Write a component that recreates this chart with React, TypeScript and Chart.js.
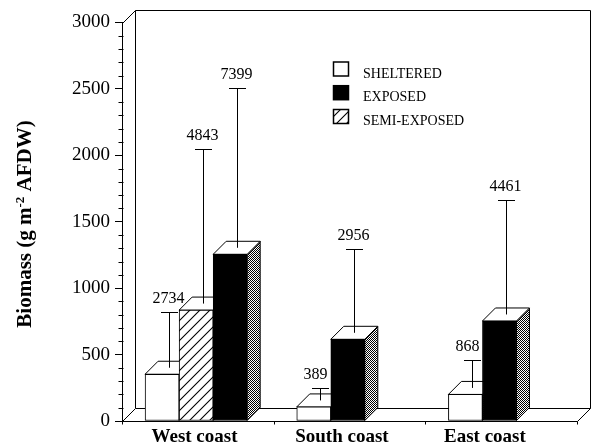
import React, { useEffect, useRef } from "react";
import { Chart, registerables } from "chart.js";

Chart.register(...registerables);

// ---------------- data ----------------
const categories = ["West coast", "South coast", "East coast"];
const seriesNames = ["SHELTERED", "EXPOSED", "SEMI-EXPOSED"];
const shelteredMean: (number | null)[] = [352, 106, 200];
const exposedMean: (number | null)[] = [1255, 615, 753];
const semiExposedMean: (number | null)[] = [835, null, null];
const shelteredSD: (number | null)[] = [420, 94, 210];
const exposedSD: (number | null)[] = [1203, 631, 862];
const semiExposedSD: (number | null)[] = [1164, null, null];
const shelteredMax: (number | null)[] = [2734, 389, 868];
const exposedMax: (number | null)[] = [7399, 2956, 4461];
const semiExposedMax: (number | null)[] = [4843, null, null];
const yTickValues = [0, 500, 1000, 1500, 2000, 2500, 3000];
const yMinorStep = 100;
const yAxisTitle = ["Biomass (g m", "-2", " AFDW)"];

// ---------------- layout ----------------
const W = 592;
const H = 445;
const D = 13; // 3D depth in px
const SLOT_ORDER = [0, 2, 1]; // sheltered, semi-exposed, exposed (left to right)
const GROUP_START = 0.152;
const SLOT_WIDTH = 0.2245;
const LABEL_POS = [0.478, 1.45, 2.393];
const FONT = "'Liberation Serif', 'Times New Roman', serif";

const means = [shelteredMean, exposedMean, semiExposedMean];
const sds = [shelteredSD, exposedSD, semiExposedSD];
const maxs = [shelteredMax, exposedMax, semiExposedMax];

function slotX(s: number, i: number) {
  const present = SLOT_ORDER.filter((k) => means[k][i] != null);
  const slot = present.indexOf(s);
  return i + GROUP_START + (slot + 0.5) * SLOT_WIDTH;
}

const cr = (v: number) => Math.round(v) + 0.5;

function makeHatch(): CanvasPattern | string {
  const c = document.createElement("canvas");
  c.width = 10;
  c.height = 10;
  const g = c.getContext("2d");
  if (!g) return "#fff";
  g.fillStyle = "#fff";
  g.fillRect(0, 0, 10, 10);
  g.strokeStyle = "#000";
  g.lineWidth = 1.1;
  g.beginPath();
  g.moveTo(-1, 11);
  g.lineTo(11, -1);
  g.moveTo(-6, 6);
  g.lineTo(6, -6);
  g.moveTo(4, 16);
  g.lineTo(16, 4);
  g.stroke();
  return g.createPattern(c, "repeat") || "#fff";
}

function makeStipple(): CanvasPattern | string {
  const c = document.createElement("canvas");
  c.width = 2;
  c.height = 2;
  const g = c.getContext("2d");
  if (!g) return "#666";
  g.fillStyle = "#fff";
  g.fillRect(0, 0, 2, 2);
  g.fillStyle = "#000";
  g.fillRect(0, 0, 1, 1);
  g.fillRect(1, 1, 1, 1);
  return g.createPattern(c, "repeat") || "#666";
}

export default function App() {
  const ref = useRef<HTMLCanvasElement | null>(null);

  useEffect(() => {
    const canvas = ref.current;
    if (!canvas) return;
    const hatch = makeHatch();
    const stipple = makeStipple();
    const fills: any[] = ["#ffffff", "#000000", hatch];

    const datasets = seriesNames.map((name, s) => ({
      label: name,
      data: categories
        .map((_, i) =>
          means[s][i] == null ? null : { x: slotX(s, i), y: means[s][i] as number, cat: i }
        )
        .filter((p) => p !== null) as any[],
      backgroundColor: fills[s],
      borderColor: "#000",
      borderWidth: 1,
      borderSkipped: false as any,
      barThickness: 34,
      grouped: false,
    }));

    const plugin = {
      id: "bio3d",
      beforeDatasetsDraw(chart: any) {
        const { ctx, chartArea: a, scales } = chart;
        const x = scales.x;
        const y = scales.y;
        ctx.save();
        ctx.strokeStyle = "#000";
        ctx.lineWidth = 1;
        const top = y.getPixelForValue(3000);
        const L = cr(a.left);
        const R = cr(a.right);
        const B = cr(a.bottom);
        const T = cr(top);
        // back wall
        ctx.beginPath();
        ctx.moveTo(L, T);
        ctx.lineTo(L + D, T - D);
        ctx.lineTo(R + D, T - D);
        ctx.lineTo(R + D, B - D);
        ctx.moveTo(L + D, T - D);
        ctx.lineTo(L + D, B - D);
        ctx.stroke();
        // floor
        ctx.beginPath();
        ctx.moveTo(L, B);
        ctx.lineTo(R, B);
        ctx.lineTo(R + D, B - D);
        ctx.lineTo(L + D, B - D);
        ctx.closePath();
        ctx.fillStyle = "#fff";
        ctx.fill();
        ctx.stroke();
        // floor ticks
        ctx.beginPath();
        for (let v = 0; v <= categories.length; v++) {
          const px = cr(x.getPixelForValue(v));
          ctx.moveTo(px, B);
          ctx.lineTo(px, B + 3);
        }
        // minor y ticks
        for (let v = 0; v <= 3000; v += yMinorStep) {
          if (v % 500 === 0) continue;
          const py = cr(y.getPixelForValue(v));
          ctx.moveTo(L - 4, py);
          ctx.lineTo(L + 1, py);
        }
        ctx.stroke();

        // 3D faces
        const bars: any[] = [];
        chart.data.datasets.forEach((ds: any, d: number) => {
          const meta = chart.getDatasetMeta(d);
          meta.data.forEach((el: any) => {
            const p = el.getProps(["x", "y", "base", "width"], true);
            bars.push(p);
          });
        });
        bars.sort((p, q) => p.x - q.x);
        for (const p of bars) {
          const l = p.x - p.width / 2;
          const r = p.x + p.width / 2;
          const t = p.y;
          const b = p.base;
          // side
          ctx.beginPath();
          ctx.moveTo(r, b);
          ctx.lineTo(r + D, b - D);
          ctx.lineTo(r + D, t - D);
          ctx.lineTo(r, t);
          ctx.closePath();
          ctx.fillStyle = stipple;
          ctx.fill();
          ctx.stroke();
          // top
          ctx.beginPath();
          ctx.moveTo(l, t);
          ctx.lineTo(r, t);
          ctx.lineTo(r + D, t - D);
          ctx.lineTo(l + D, t - D);
          ctx.closePath();
          ctx.fillStyle = "#fff";
          ctx.fill();
          ctx.stroke();
        }
        ctx.restore();
      },
      afterDatasetsDraw(chart: any) {
        const { ctx, scales } = chart;
        const y = scales.y;
        ctx.save();
        ctx.strokeStyle = "#000";
        ctx.fillStyle = "#000";
        ctx.lineWidth = 1;
        ctx.font = `16px ${FONT}`;
        ctx.textAlign = "left";
        ctx.textBaseline = "alphabetic";
        chart.data.datasets.forEach((ds: any, s: number) => {
          const meta = chart.getDatasetMeta(s);
          meta.data.forEach((el: any, k: number) => {
            const i = ds.data[k].cat;
            const m = means[s][i];
            const sd = sds[s][i];
            const mx = maxs[s][i];
            if (m == null || sd == null) return;
            const p = el.getProps(["x", "y"], true);
            const ex = cr(p.x + D / 2);
            const y0 = p.y - D / 2;
            const y1 = cr(y.getPixelForValue(m + sd) - D / 2);
            ctx.beginPath();
            ctx.moveTo(ex, y0);
            ctx.lineTo(ex, y1);
            ctx.moveTo(ex - 8.5, y1);
            ctx.lineTo(ex + 8.5, y1);
            ctx.stroke();
            if (mx != null) ctx.fillText(String(mx), ex - 17, y1 - 10);
          });
        });
        ctx.restore();
      },
      afterDraw(chart: any) {
        const { ctx } = chart;
        ctx.save();
        // legend
        const rows = [0, 1, 2];
        const baselines = [77.5, 101.2, 125];
        ctx.font = `14px ${FONT}`;
        ctx.textBaseline = "alphabetic";
        ctx.textAlign = "left";
        rows.forEach((s, r) => {
          const bl = baselines[r];
          ctx.fillStyle = fills[s];
          ctx.fillRect(333.5, bl - 15.5, 15, 14);
          ctx.strokeStyle = "#000";
          ctx.lineWidth = 1.5;
          ctx.strokeRect(333.5, bl - 15.5, 15, 14);
          ctx.fillStyle = "#000";
          ctx.fillText(seriesNames[s], 363, bl);
        });
        // y axis title
        const big = `bold 21px ${FONT}`;
        const small = `bold 13px ${FONT}`;
        ctx.font = big;
        const w0 = ctx.measureText(yAxisTitle[0]).width;
        const w2 = ctx.measureText(yAxisTitle[2]).width;
        ctx.font = small;
        const w1 = ctx.measureText(yAxisTitle[1]).width;
        const total = w0 + w1 + w2;
        ctx.translate(24, 224);
        ctx.rotate(-Math.PI / 2);
        ctx.fillStyle = "#000";
        ctx.textAlign = "left";
        let cx = -total / 2;
        ctx.font = big;
        ctx.fillText(yAxisTitle[0], cx, 7);
        cx += w0;
        ctx.font = small;
        ctx.fillText(yAxisTitle[1], cx, 0);
        cx += w1;
        ctx.font = big;
        ctx.fillText(yAxisTitle[2], cx, 7);
        ctx.restore();
      },
    };

    const chart = new Chart(canvas, {
      type: "bar",
      data: { datasets: datasets as any },
      options: {
        animation: false,
        responsive: false,
        devicePixelRatio: 1,
        layout: { padding: { left: 0, top: 22.5, right: 15, bottom: 0 } },
        plugins: { legend: { display: false }, tooltip: { enabled: false } },
        scales: {
          x: {
            type: "linear",
            offset: false,
            min: 0,
            max: categories.length,
            grid: { display: false, drawTicks: false, offset: false },
            border: { display: false },
            afterBuildTicks: (axis: any) => {
              axis.ticks = LABEL_POS.map((v) => ({ value: v }));
            },
            afterFit: (axis: any) => {
              axis.height = 24;
            },
            ticks: {
              autoSkip: false,
              maxRotation: 0,
              minRotation: 0,
              padding: 5,
              color: "#000",
              font: { family: FONT, size: 19, weight: "bold" },
              callback: (_v: any, idx: number) => categories[idx],
            },
          },
          y: {
            min: 0,
            max: 3000,
            afterBuildTicks: (axis: any) => {
              axis.ticks = yTickValues.map((v) => ({ value: v }));
            },
            afterFit: (axis: any) => {
              axis.width = 122;
            },
            grid: { drawOnChartArea: false, tickLength: 7, color: "#000", tickColor: "#000" },
            border: { display: true, color: "#000", width: 1 },
            ticks: {
              padding: 5,
              color: "#000",
              font: { family: FONT, size: 19 },
              callback: (v: any) => String(v),
            },
          },
        },
      },
      plugins: [plugin],
    } as any);

    return () => chart.destroy();
  }, []);

  return (
    <div style={{ position: "absolute", left: 0, top: 0, width: W, height: H, background: "#fff" }}>
      <canvas ref={ref} width={W} height={H} style={{ display: "block" }} />
    </div>
  );
}
